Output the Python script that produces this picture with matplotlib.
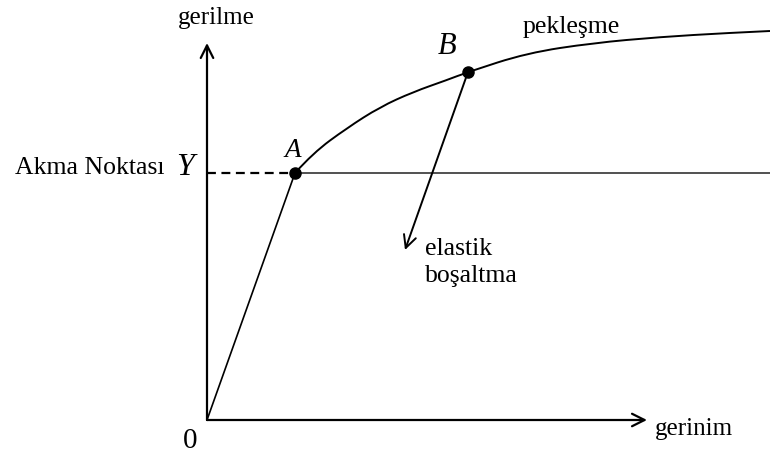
import numpy as np
import matplotlib.pyplot as plt
from matplotlib.path import Path
from matplotlib.patches import PathPatch

# Değerler (orijine göre piksel birimleri)
A = (88, 247)
B = (261, 348)
yieldStress = 247
unloadEnd = (198, 170)
axisEnd = (440, 377)

# pekleşme eğrisi (A'dan sağ kenara)
hardX = [88, 106, 140, 173, 206, 240, 261, 320, 386, 453, 520, 563]
hardY = [247, 267, 292, 313, 328, 340, 348, 367, 377, 383, 387, 389]

plt.rcParams['font.family'] = ['Liberation Serif', 'DejaVu Serif']

fig = plt.figure(figsize=(7.7, 4.65), dpi=100)
ax = fig.add_axes([0, 0, 1, 1])
ax.set_xlim(-207, 563)
ax.set_ylim(-45, 420)
ax.axis('off')

arrow = dict(arrowstyle='->,head_length=0.9,head_width=0.45', color='black', lw=1.6,
             shrinkA=0, shrinkB=0)

# eksenler
ax.annotate('', xy=(axisEnd[0], 0), xytext=(0, 0), arrowprops=arrow)
ax.annotate('', xy=(0, axisEnd[1]), xytext=(0, 0), arrowprops=arrow)

# elastik bölge ve akma çizgisi
ax.plot([0, A[0]], [0, A[1]], color='black', lw=1.2)
ax.plot([0, A[0]], [yieldStress, yieldStress], color='black', lw=1.6, ls=(0, (4, 2.5)))
ax.plot([A[0], 563], [yieldStress, yieldStress], color='#333333', lw=1.2)

# pekleşme eğrisi: okunan noktalar kontrol noktası olarak, yumuşak çizim
pts = np.column_stack([hardX, hardY]).astype(float)
verts = [pts[0]]
codes = [Path.MOVETO]
for i in range(1, len(pts) - 1):
    end = pts[-1] if i == len(pts) - 2 else (pts[i] + pts[i + 1]) / 2
    verts += [pts[i], end]
    codes += [Path.CURVE3, Path.CURVE3]
ax.add_patch(PathPatch(Path(verts, codes), fill=False, color='black', lw=1.4))

# elastik boşaltma
ax.annotate('', xy=unloadEnd, xytext=B, arrowprops=dict(arrow, lw=1.4))

ax.plot(*A, 'o', color='black', ms=8)
ax.plot(*B, 'o', color='black', ms=8)

ax.text(9, 402, 'gerilme', fontsize=18, ha='center', va='center')
ax.text(448, -9, 'gerinim', fontsize=18, ha='left', va='center')
ax.text(-17, -21, '0', fontsize=21, ha='center', va='center')
ax.text(-192, 246, 'Akma Noktası', fontsize=18.5, ha='left', va='baseline')
ax.text(-22, 245, 'Y', fontsize=23, style='italic', ha='center', va='baseline')
ax.text(86, 263, 'A', fontsize=19.5, style='italic', ha='center', va='baseline')
ax.text(240, 366, 'B', fontsize=22, style='italic', ha='center', va='baseline')
ax.text(364, 393, 'pekleşme', fontsize=18.5, ha='center', va='center')
ax.text(218, 171, 'elastik', fontsize=18.5, ha='left', va='center')
ax.text(218, 144, 'boşaltma', fontsize=18.5, ha='left', va='center')

fig.savefig('out.png', dpi=100)
